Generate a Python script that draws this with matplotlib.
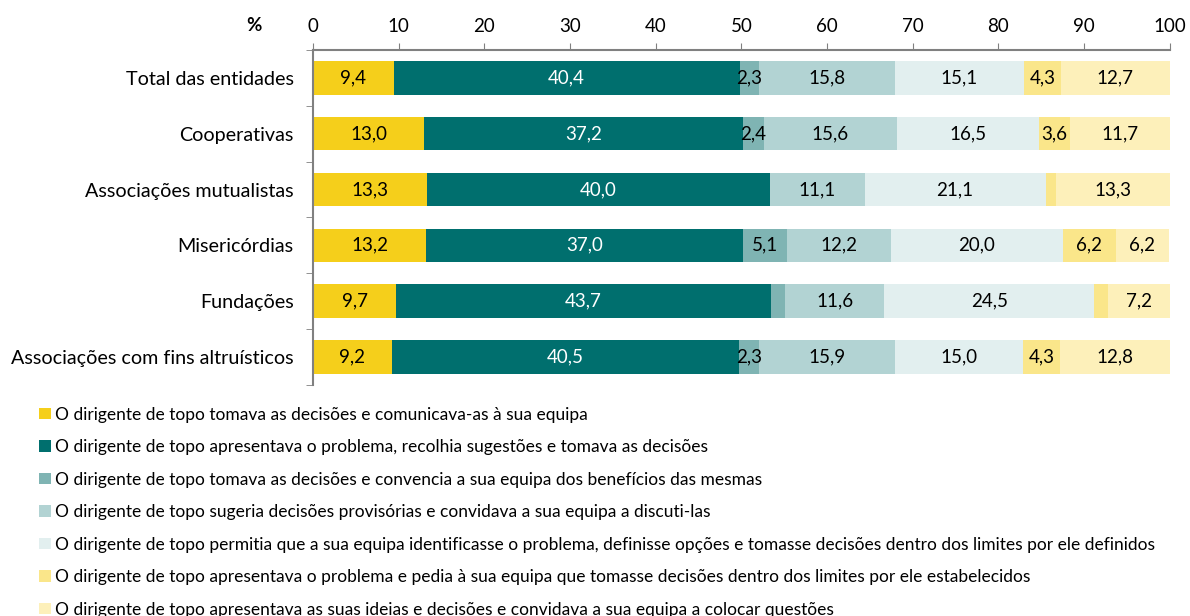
import numpy as np
import matplotlib
matplotlib.use('Agg')
import matplotlib.pyplot as plt
from matplotlib.patches import Patch

plt.rcParams['font.family'] = ['Lato', 'DejaVu Sans']

categorias = ['Total das entidades', 'Cooperativas', 'Associações mutualistas',
              'Misericórdias', 'Fundações', 'Associações com fins altruísticos']

series = [
    'O dirigente de topo tomava as decisões e comunicava-as à sua equipa',
    'O dirigente de topo apresentava o problema, recolhia sugestões e tomava as decisões',
    'O dirigente de topo tomava as decisões e convencia a sua equipa dos benefícios das mesmas',
    'O dirigente de topo sugeria decisões provisórias e convidava a sua equipa a discuti-las',
    'O dirigente de topo permitia que a sua equipa identificasse o problema, definisse opções e tomasse decisões dentro dos limites por ele definidos',
    'O dirigente de topo apresentava o problema e pedia à sua equipa que tomasse decisões dentro dos limites por ele estabelecidos',
    'O dirigente de topo apresentava as suas ideias e decisões e convidava a sua equipa a colocar questões',
]

# valores por série (uma lista por categoria, mesma ordem de categorias)
s1 = [9.4, 13.0, 13.3, 13.2, 9.7, 9.2]
s2 = [40.4, 37.2, 40.0, 37.0, 43.7, 40.5]
s3 = [2.3, 2.4, 0.0, 5.1, 1.7, 2.3]
s4 = [15.8, 15.6, 11.1, 12.2, 11.6, 15.9]
s5 = [15.1, 16.5, 21.1, 20.0, 24.5, 15.0]
s6 = [4.3, 3.6, 1.2, 6.2, 1.6, 4.3]
s7 = [12.7, 11.7, 13.3, 6.2, 7.2, 12.8]
valores = [s1, s2, s3, s4, s5, s6, s7]

cores = ['#F5CF1B', '#006F6E', '#7FB4B3', '#B2D3D3', '#E2EFEF', '#FAE68A', '#FDF0BA']

fig = plt.figure(figsize=(11.9, 6.16), dpi=100)
ax = fig.add_axes([0.263, 0.375, 0.72, 0.544])

y = np.arange(len(categorias))
left = np.zeros(len(categorias))
for i, (vals, cor) in enumerate(zip(valores, cores)):
    vals = np.array(vals)
    ax.barh(y, vals, left=left, height=0.6, color=cor, edgecolor='none')
    for j, v in enumerate(vals):
        if v >= 2.0:
            ax.text(left[j] + v / 2, y[j], '{:.1f}'.format(v).replace('.', ','),
                    ha='center', va='center', fontsize=13.5,
                    color='white' if i == 1 else 'black')
    left += vals

ax.set_xlim(0, 100)
ax.set_ylim(len(categorias) - 0.5, -0.5)
ax.xaxis.tick_top()
ax.set_xticks(np.arange(0, 101, 10))
ax.tick_params(axis='x', direction='out', length=5, color='#808080', labelsize=13.5, pad=6)
ax.set_yticks(y)
ax.set_yticklabels(categorias, fontsize=14.2)
ax.set_yticks(np.arange(-0.5, len(categorias), 1), minor=True)
ax.tick_params(axis='y', which='major', length=0, pad=14)
ax.tick_params(axis='y', which='minor', length=5, color='#808080', direction='out')

for s in ['right', 'bottom']:
    ax.spines[s].set_visible(False)
ax.spines['top'].set_color('#808080')
ax.spines['left'].set_color('#808080')
ax.spines['top'].set_linewidth(1.5)
ax.spines['left'].set_linewidth(1.5)

fig.text(0.213, 0.958, '%', fontsize=13.5, fontweight='bold', ha='center', va='center')

handles = [Patch(facecolor=c, edgecolor='none') for c in cores]
fig.legend(handles, series, loc='upper left', bbox_to_anchor=(0.033, 0.34),
           frameon=False, fontsize=12.5, handlelength=0.65, handleheight=0.65,
           handletextpad=0.25, labelspacing=0.95, borderaxespad=0, borderpad=0)

fig.savefig('out.png', dpi=100)
